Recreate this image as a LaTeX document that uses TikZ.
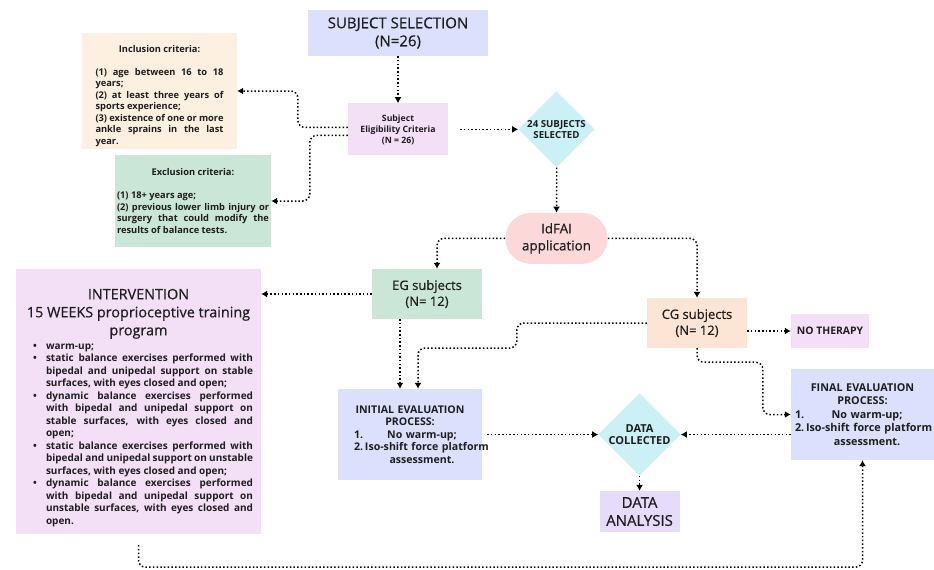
\documentclass[tikz,border=0pt]{standalone}
\usepackage{fontspec}
\setmainfont{Open Sans}
\newfontfamily\medfont{Open Sans}[FakeBold=0.6]
\usepackage{xcolor}
\usetikzlibrary{positioning,shapes.geometric,shapes.misc,arrows.meta}

\definecolor{ink}{RGB}{30,30,30}
\definecolor{selblue}{RGB}{219,225,252}
\definecolor{peach}{RGB}{253,240,224}
\definecolor{mint}{RGB}{201,230,214}
\definecolor{lilac}{RGB}{243,224,247}
\definecolor{skyc}{RGB}{203,240,246}
\definecolor{rosy}{RGB}{252,216,216}
\definecolor{cgpeach}{RGB}{253,229,213}
\definecolor{lavender}{RGB}{231,219,252}

% list line of the evaluation boxes: indent, number, then centred text
\newcommand\evline[4]{\makebox[\linewidth][l]{\hspace*{#1}\makebox[11pt][l]{#2}\parbox[t]{#3}{\centering #4}}}
% bullet line of the intervention box
\newcommand\bitem[1]{\par\noindent\hangindent=22pt\hangafter=1\makebox[22pt][c]{\textbullet}#1}

\begin{document}
\begin{tikzpicture}[x=1pt, y=-1pt, >={Latex[length=6pt,width=7pt]},
						block/.style={
							rectangle,
							draw=none,
							inner sep=2pt,
							align=center,
							text=ink
						},
						decision/.style={
							diamond,
							aspect=1,
							inner sep=0pt,
							fill=skyc,
							text=ink,
							align=center
						},
						bigtext/.style={font=\fontsize{15}{18}\selectfont\mdseries\medfont},
						midtext/.style={font=\fontsize{13}{16}\selectfont\mdseries\medfont},
						crittext/.style={font=\fontsize{9.3}{11.5}\selectfont\bfseries},
						flow/.style={->, line width=1.5pt, dash pattern=on 1.5pt off 2.2pt, rounded corners=7pt}]

	\useasboundingbox (0,0) rectangle (934,570);

	% Subject selection node
	\node [block, bigtext, fill=selblue, minimum width=180pt, minimum height=46pt] (select) at (398,33)
		{SUBJECT SELECTION\\(N=26)};

	% Eligibility node
	\node [block, fill=lilac, minimum width=100pt, minimum height=52pt,
		font=\fontsize{8.7}{11}\selectfont\bfseries, below=47pt of select] (elig)
		{Subject\\Eligibility Criteria\\(N = 26)};

	% Inclusion and exclusion criteria
	\node [block, crittext, fill=peach, minimum width=155pt, minimum height=106pt,
		text width=128pt, inner xsep=13.5pt, align=justify] (incl) at (159.5,91)
		{{\centering\rule{0pt}{17pt}Inclusion criteria:\par}
		\vspace{11.5pt}
		(1) age between 16 to 18\linebreak years;\par
		(2) at least three years of\linebreak sports experience;\par
		(3) existence of one or more\linebreak ankle sprains in the last\linebreak year.};

	\node [block, crittext, fill=mint, minimum width=156pt, minimum height=92pt,
		text width=152pt, inner xsep=2pt, align=justify] (excl) at (193,201)
		{{\centering Exclusion criteria:\par}
		\vspace{11.5pt}
		(1) 18+ years age;\par
		(2) previous lower limb injury or\linebreak surgery that could modify the\linebreak results of balance tests.};

	% Selected subjects
	\node [decision, minimum width=76pt, minimum height=74pt,
		font=\fontsize{9.7}{10.5}\selectfont\bfseries, right=70pt of elig] (sel24)
		{24 SUBJECTS\\SELECTED};

	% IdFAI node
	\node [rounded rectangle, fill=rosy, text=ink, align=center,
		font=\fontsize{13.4}{17}\selectfont\medfont,
		minimum width=109pt, minimum height=51pt, below=45pt of sel24] (idfai)
		{IdFAI\\application};

	% The two groups
	\node [block, midtext, fill=mint, minimum width=110pt, minimum height=50pt] (eg) at (427,294)
		{EG subjects\\(N= 12)};
	\node [block, midtext, fill=cgpeach, minimum width=100pt, minimum height=50pt] (cg) at (697,323)
		{CG subjects\\(N= 12)};
	\node [block, fill=lilac, minimum width=78pt, minimum height=34pt,
		font=\fontsize{10.4}{12}\selectfont\bfseries] (nother) at (830,331) {NO THERAPY};

	% Intervention node
	\node [block, fill=lilac, minimum width=245pt, minimum height=265pt, text width=229pt,
		inner xsep=8pt, align=justify, font=\fontsize{10}{12.5}\selectfont\bfseries] (interv) at (138.5,401.5)
		{{\fontsize{14.4}{18}\selectfont\mdseries\medfont\centering\rule{0pt}{23pt}INTERVENTION\\15 WEEKS proprioceptive training\\program\par}
		\vspace{1.5pt}
		\bitem{warm-up;}
		\bitem{static balance exercises performed with\linebreak bipedal and unipedal support on stable\linebreak surfaces, with eyes closed and open;}
		\bitem{dynamic balance exercises performed\linebreak with bipedal and unipedal support on\linebreak stable surfaces, with eyes closed and\linebreak open;}
		\bitem{static balance exercises performed with\linebreak bipedal and unipedal support on unstable\linebreak surfaces, with eyes closed and open;}
		\bitem{dynamic balance exercises performed\linebreak with bipedal and unipedal support on\linebreak unstable surfaces, with eyes closed and\linebreak open.}\par};

	% Evaluation nodes
	\node [block, fill=selblue, minimum width=144pt, minimum height=91pt, text width=136pt,
		inner xsep=4pt, font=\fontsize{10.6}{12.5}\selectfont\bfseries] (init) at (410,434.5)
		{INITIAL EVALUATION\\PROCESS:\\
		\evline{12pt}{1.}{114pt}{No warm-up;}\\
		\evline{12pt}{2.}{114pt}{\mbox{Iso-shift force platform}\\assessment.}};
	\node [block, fill=selblue, minimum width=143pt, minimum height=91pt, text width=139pt,
		inner xsep=2pt, font=\fontsize{10.8}{13.5}\selectfont\bfseries] (final) at (862.5,414.5)
		{FINAL EVALUATION\\PROCESS:\\
		\evline{2pt}{1.}{122pt}{No warm-up;}\\
		\evline{2pt}{2.}{122pt}{\mbox{Iso-shift force platform}\\assessment.}};

	% Data nodes
	\node [decision, minimum width=74pt, minimum height=76pt,
		font=\fontsize{11}{12.5}\selectfont\bfseries, right=116pt of init] (dc)
		{DATA\\COLLECTED};
	\node [block, bigtext, fill=lavender, minimum width=80pt, minimum height=41pt,
		below=15pt of dc] (da) {DATA\\ANALYSIS};

	%% Connectors
	\draw [flow] (select) -- (elig);
	\draw [flow] ([yshift=2pt]elig.west) -- ++(-50,0) |- (incl.east);
	\draw [flow] ([yshift=-6pt]elig.west) -- ++(-38,0) |- (excl.east);
	\draw [flow, shorten <=12pt] (elig) -- (sel24);
	\draw [flow] (sel24) -- (idfai);
	\draw [flow] (idfai.west) -| ([xshift=10pt]eg.north);
	\draw [flow] (idfai.east) -| (cg.north);
	\draw [flow] (eg.west) -- (eg.west -| interv.east);
	\draw [flow] ([xshift=-27pt]eg.south) -- ([xshift=-27pt]eg.south |- init.north);
	\draw [flow] (cg.west) -- ++(-130,0) -- ++(0,25) -| ([xshift=8pt]init.north);
	\draw [flow] (cg.east |- nother.west) -- (nother.west);
	\draw [flow] (cg.south) -- ++(0,14) -| ([xshift=-28pt]final.west) -- (final.west);
	\draw [flow, shorten <=5pt] (init.east) -- (dc.west);
	\draw [flow] (final.west |- dc.east) -- (dc.east);
	\draw [flow] (dc) -- (da);
	\draw [flow] ([yshift=-11pt]interv.south) -- ++(0,22) -| (final.south);
\end{tikzpicture}
\end{document}
